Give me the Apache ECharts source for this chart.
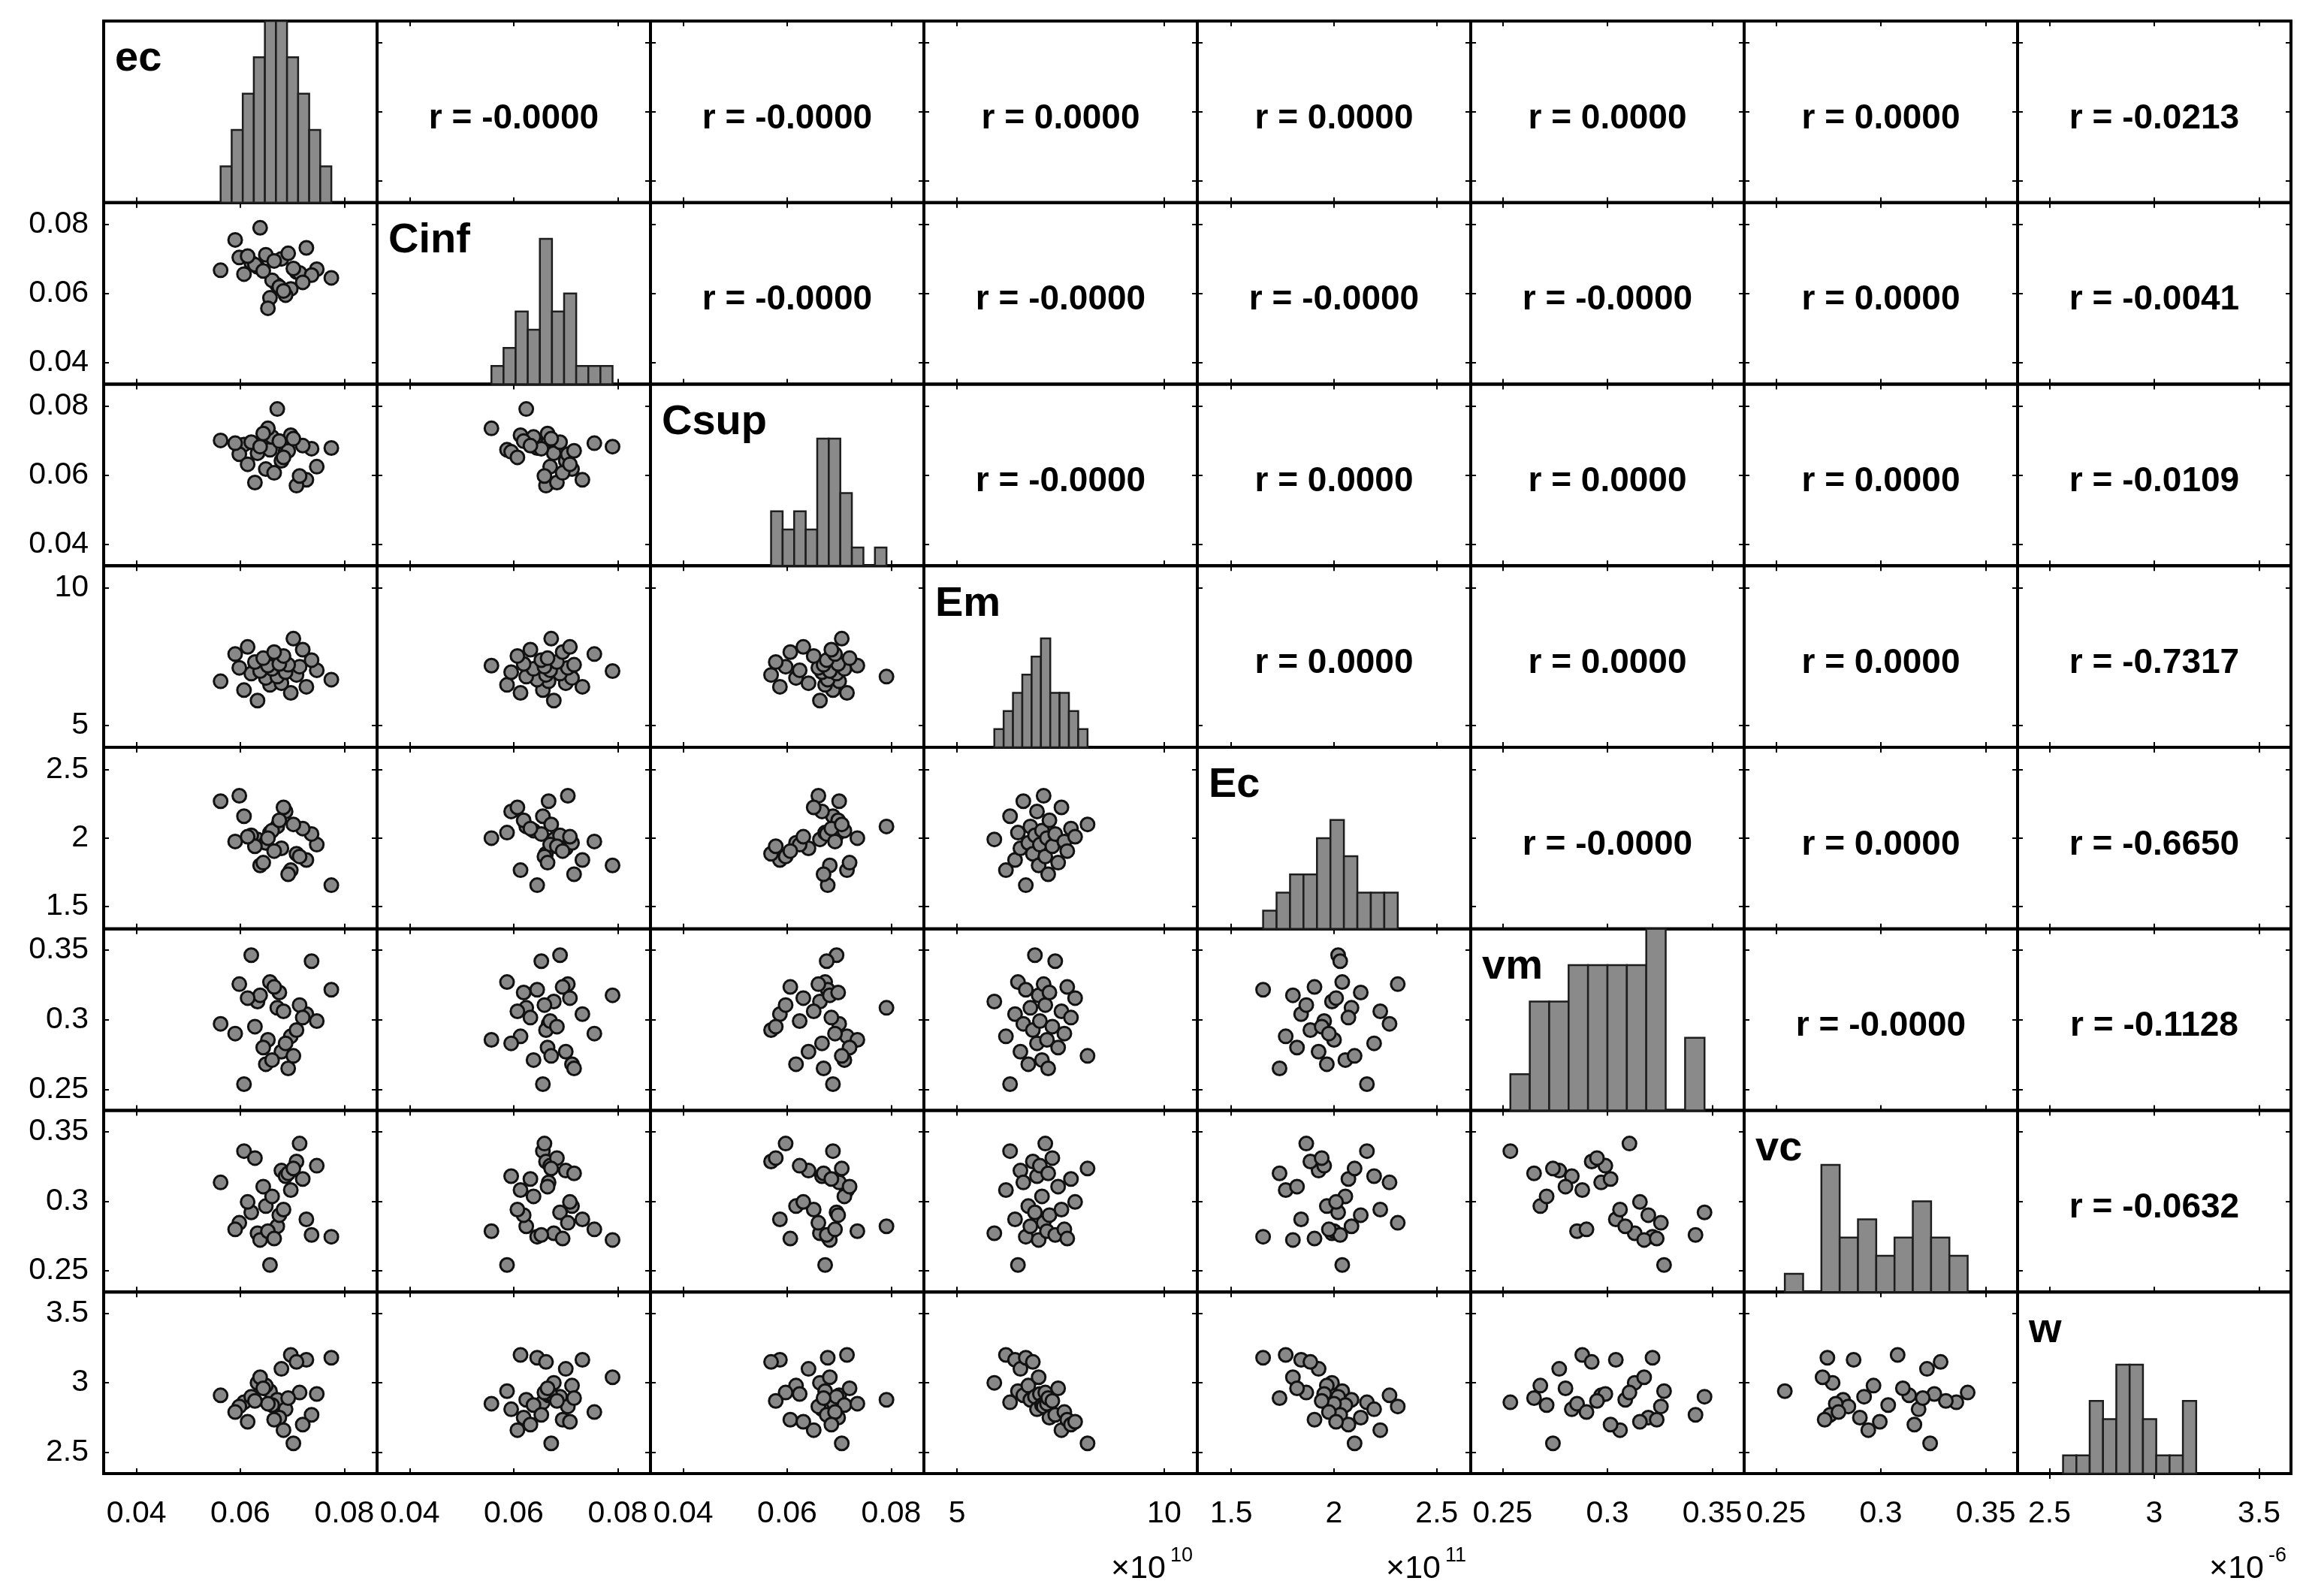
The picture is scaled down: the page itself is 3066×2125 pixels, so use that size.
<!DOCTYPE html>
<html>
<head>
<meta charset="utf-8">
<title>plotmatrix</title>
<script src="https://cdn.jsdelivr.net/npm/echarts@6.0.0/dist/echarts.min.js"></script>
<style>
html, body { margin: 0; padding: 0; background: #fff; }
#chart { width: 3066px; height: 2125px; }
</style>
</head>
<body>
<div id="chart"></div>
<script>
// variable names (diagonal labels)
const varNames = ['ec', 'Cinf', 'Csup', 'Em', 'Ec', 'vm', 'vc', 'w'];

// 30 samples per variable, same sample order in every array
const ec = [0.0633, 0.0697, 0.0607, 0.0727, 0.0657, 0.0679, 0.0562, 0.0775, 0.0649, 0.0671,
            0.0708, 0.0621, 0.0687, 0.0638, 0.0747, 0.0661, 0.0598, 0.0714, 0.0653, 0.0692,
            0.0675, 0.0628, 0.0737, 0.0644, 0.0683, 0.0590, 0.0665, 0.0720, 0.0614, 0.0702];
const Cinf = [0.0677, 0.0613, 0.0656, 0.0732, 0.0587, 0.0700, 0.0667, 0.0645, 0.0712, 0.0624,
              0.0662, 0.0689, 0.0595, 0.0790, 0.0670, 0.0638, 0.0704, 0.0659, 0.0557, 0.0716,
              0.0619, 0.0683, 0.0653, 0.0665, 0.0607, 0.0755, 0.0694, 0.0632, 0.0708, 0.0672];
const Csup = [0.0663, 0.0715, 0.0688, 0.0586, 0.0673, 0.0641, 0.0700, 0.0678, 0.0617, 0.0791,
              0.0569, 0.0695, 0.0667, 0.0682, 0.0624, 0.0710, 0.0660, 0.0597, 0.0735, 0.0670,
              0.0698, 0.0578, 0.0676, 0.0720, 0.0651, 0.0692, 0.0606, 0.0685, 0.0631, 0.0705];
// Em in units of 1e10
const Em = [5.90, 6.18, 6.28, 6.40, 6.47, 6.53, 6.60, 6.66, 6.72, 6.77,
            6.83, 6.88, 6.93, 6.97, 7.00, 7.05, 7.09, 7.13, 7.17, 7.20,
            7.23, 7.30, 7.37, 7.44, 7.52, 7.59, 7.66, 7.75, 7.85, 8.15];
// Ec in units of 1e11
const Ec = [1.990, 1.765, 2.160, 1.840, 2.040, 1.925, 2.270, 1.655, 1.965, 2.085,
            1.885, 2.020, 2.195, 1.800, 1.952, 2.055, 2.310, 1.865, 2.000, 1.735,
            2.130, 1.940, 2.030, 1.820, 2.225, 1.975, 1.905, 2.070, 2.010, 2.100];
const vm = [0.3130, 0.2880, 0.2537, 0.3040, 0.3270, 0.2770, 0.2970, 0.3215, 0.2680, 0.3085,
            0.2925, 0.3463, 0.2830, 0.3175, 0.2990, 0.2710, 0.3255, 0.3105, 0.2855, 0.2650,
            0.3195, 0.2950, 0.3420, 0.2800, 0.3060, 0.2900, 0.3235, 0.3015, 0.3155, 0.2740];
const vc = [0.2770, 0.3080, 0.3360, 0.2870, 0.2542, 0.3220, 0.3135, 0.2745, 0.2965, 0.2820,
            0.3285, 0.2920, 0.3180, 0.2722, 0.3255, 0.3035, 0.2845, 0.3414, 0.2785, 0.3200,
            0.2900, 0.3310, 0.2758, 0.3105, 0.2940, 0.2798, 0.2732, 0.3160, 0.2995, 0.3235];
// w in units of 1e-6
const w = [3.00, 3.20, 2.86, 3.165, 2.94, 3.10, 2.91, 3.18, 2.98, 2.878,
           3.15, 2.90, 2.81, 3.04, 2.92, 2.84, 2.83, 2.93, 2.85, 2.89,
           2.75, 2.87, 2.77, 2.96, 2.66, 2.79, 2.735, 2.70, 2.72, 2.565];

// axis limits and tick labels per variable
const axisMin = [0.0337, 0.0337, 0.0337, 4.2, 1.335, 0.2348, 0.2348, 2.348];
const axisMax = [0.0863, 0.0863, 0.0863, 10.8, 2.665, 0.3652, 0.3652, 3.652];
const tickValues = [
    [0.04, 0.06, 0.08], [0.04, 0.06, 0.08], [0.04, 0.06, 0.08],
    [5, 10], [1.5, 2, 2.5], [0.25, 0.3, 0.35], [0.25, 0.3, 0.35], [2.5, 3, 3.5]
];
const histTop = [5, 10, 10, 10, 10, 5, 10, 10];
const expText = ['', '', '', '10', '11', '', '', '-6'];

// correlation labels, upper triangle, row by row
const rText = [
    ['-0.0000', '-0.0000', '0.0000', '0.0000', '0.0000', '0.0000', '-0.0213'],
    ['-0.0000', '-0.0000', '-0.0000', '-0.0000', '0.0000', '-0.0041'],
    ['-0.0000', '0.0000', '0.0000', '0.0000', '-0.0109'],
    ['0.0000', '0.0000', '0.0000', '-0.7317'],
    ['-0.0000', '0.0000', '-0.6650'],
    ['-0.0000', '-0.1128'],
    ['-0.0632']
];

const vars = [ec, Cinf, Csup, Em, Ec, vm, vc, w];
const N = 8;
const L = 138, T = 28, CW = 364, CH = 241.75;
const FONT = "'Liberation Sans', Arial, Helvetica, sans-serif";

function fmt(v) {
    return String(Math.round(v * 10000) / 10000);
}

// same as matlab hist(): 10 equal bins between min and max
function histogram(vals, nb) {
    const lo = Math.min(...vals), hi = Math.max(...vals);
    const bw = (hi - lo) / nb;
    const counts = new Array(nb).fill(0);
    vals.forEach(v => {
        let k = Math.floor((v - lo) / bw);
        if (k >= nb) k = nb - 1;
        counts[k]++;
    });
    return counts.map((c, k) => [lo + k * bw, lo + (k + 1) * bw, c]);
}

const measureCtx = document.createElement('canvas').getContext('2d');
function textWidth(txt, size) {
    measureCtx.font = size + 'px ' + FONT;
    return measureCtx.measureText(txt).width;
}

const grids = [], xAxes = [], yAxes = [], series = [], graphics = [];

for (let r = 0; r < N; r++) {
    for (let c = 0; c < N; c++) {
        const g = grids.length;
        const diag = r === c;
        grids.push({
            left: L + c * CW, top: T + r * CH, width: CW, height: CH,
            show: true, borderColor: '#000', borderWidth: 4, backgroundColor: 'transparent'
        });

        const tick = {
            show: true, inside: true, length: 7,
            customValues: tickValues[c],
            lineStyle: { color: '#000', width: 2 }
        };
        const xBase = {
            gridIndex: g, type: 'value', min: axisMin[c], max: axisMax[c],
            axisLine: { show: false }, splitLine: { show: false }, axisTick: tick
        };
        xAxes.push(Object.assign({}, xBase, {
            position: 'bottom',
            axisLabel: {
                show: r === N - 1, customValues: tickValues[c], formatter: fmt,
                fontSize: 41, color: '#000', fontFamily: FONT, margin: 33
            }
        }));
        xAxes.push(Object.assign({}, xBase, { position: 'top', axisLabel: { show: false } }));

        if (diag) {
            const yb = {
                gridIndex: g, type: 'value', min: 0, max: histTop[c],
                axisLine: { show: false }, splitLine: { show: false },
                axisTick: { show: false }, axisLabel: { show: false }
            };
            yAxes.push(Object.assign({}, yb, { position: 'left' }));
            yAxes.push(Object.assign({}, yb, { position: 'right' }));
        } else {
            const yTick = {
                show: true, inside: true, length: 7,
                customValues: tickValues[r],
                lineStyle: { color: '#000', width: 2 }
            };
            const yb = {
                gridIndex: g, type: 'value', min: axisMin[r], max: axisMax[r],
                axisLine: { show: false }, splitLine: { show: false }, axisTick: yTick
            };
            yAxes.push(Object.assign({}, yb, {
                position: 'left',
                axisLabel: {
                    show: c === 0, customValues: tickValues[r], formatter: fmt,
                    fontSize: 41, color: '#000', fontFamily: FONT, margin: 20
                }
            }));
            yAxes.push(Object.assign({}, yb, { position: 'right', axisLabel: { show: false } }));
        }

        if (diag) {
            series.push({
                type: 'custom',
                xAxisIndex: 2 * g, yAxisIndex: 2 * g,
                silent: true,
                data: histogram(vars[c], 10),
                encode: { x: [0, 1], y: 2 },
                renderItem: function (params, api) {
                    const p0 = api.coord([api.value(0), api.value(2)]);
                    const p1 = api.coord([api.value(1), 0]);
                    return {
                        type: 'rect',
                        shape: { x: p0[0], y: p0[1], width: p1[0] - p0[0], height: p1[1] - p0[1] },
                        style: { fill: '#8a8a8a', stroke: '#1e1e1e', lineWidth: 2.5 }
                    };
                }
            });
            graphics.push({
                type: 'text', x: L + c * CW + 15, y: T + r * CH + 51, z: 100,
                style: {
                    text: varNames[c], fontSize: 56, fontWeight: 'bold', fontFamily: FONT, fill: '#000',
                    align: 'left', verticalAlign: 'middle', textAlign: 'left', textVerticalAlign: 'middle'
                }
            });
        } else if (r > c) {
            series.push({
                type: 'scatter',
                xAxisIndex: 2 * g, yAxisIndex: 2 * g,
                silent: true,
                symbol: 'circle', symbolSize: 18,
                itemStyle: { color: '#888888', borderColor: '#111', borderWidth: 3, opacity: 1 },
                data: vars[c].map((x, k) => [x, vars[r][k]])
            });
        } else {
            graphics.push({
                type: 'text', x: L + c * CW + CW / 2, y: T + r * CH + CH / 2 + 9, z: 100,
                style: {
                    text: 'r = ' + rText[r][c - r - 1], fontSize: 46, fontWeight: 'bold',
                    fontFamily: FONT, fill: '#000',
                    align: 'center', verticalAlign: 'middle', textAlign: 'center', textVerticalAlign: 'middle'
                }
            });
        }
    }
}

// exponent labels under the bottom axes
expText.forEach((e, c) => {
    if (!e) return;
    const right = L + (c + 1) * CW - 6;
    const supW = textWidth(e, 27);
    graphics.push({
        type: 'text', x: right, y: 2072, z: 100,
        style: {
            text: e, fontSize: 27, fontFamily: FONT, fill: '#000',
            align: 'right', verticalAlign: 'middle', textAlign: 'right', textVerticalAlign: 'middle'
        }
    });
    graphics.push({
        type: 'text', x: right - supW - 6, y: 2089, z: 100,
        style: {
            text: '\u00d710', fontSize: 43, fontFamily: FONT, fill: '#000',
            align: 'right', verticalAlign: 'middle', textAlign: 'right', textVerticalAlign: 'middle'
        }
    });
});

const myChart = echarts.init(document.getElementById('chart'));
myChart.setOption({
    animation: false,
    backgroundColor: '#fff',
    grid: grids,
    xAxis: xAxes,
    yAxis: yAxes,
    series: series,
    graphic: { elements: graphics }
});
</script>
</body>
</html>
